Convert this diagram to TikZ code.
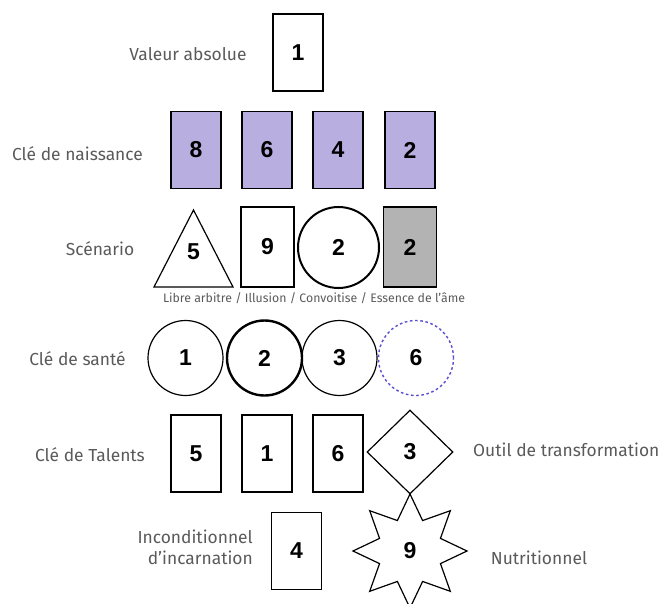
\documentclass[tikz,border=0pt]{standalone}
\usepackage{fontspec}
\setmainfont{Fira Sans}
\newfontfamily\digitfont{Liberation Sans}
\usetikzlibrary{shapes.geometric}
\definecolor{lblc}{HTML}{5A5A5A}
\definecolor{lav}{HTML}{B9AEE0}
\definecolor{gry}{HTML}{B3B3B3}
\definecolor{dblue}{HTML}{5A4FD0}
\begin{document}
\begin{tikzpicture}[x=1pt,y=-1pt,
  lbl/.style={text=lblc, font=\fontsize{17.4}{21}\selectfont, inner sep=0},
  sublbl/.style={text=lblc, font=\fontsize{12.3}{14}\selectfont, inner sep=0},
  num/.style={font=\digitfont\bfseries\fontsize{23}{26}\selectfont},
  card/.style={draw, line width=1.2pt, minimum width=50pt, minimum height=77pt, inner sep=0, num},
  bigcard/.style={draw, minimum width=53pt, minimum height=80pt, inner sep=0, num},
  ring/.style={draw, circle, line width=1.2pt, minimum size=75pt, inner sep=0, num}]
\useasboundingbox (0,0) rectangle (661,604);

% Valeur absolue
\node[lbl] (lva) at (188,54) {Valeur absolue};
\node[card] (va) at (298,52.5) {1};

% Cle de naissance
\node[lbl] (lcn) at (77.5,154) {Clé de naissance};
\node[card, fill=lav] (n1) at (196,150) {8};
\node[card, fill=lav] (n2) at (267,150) {6};
\node[card, fill=lav] (n3) at (338,150) {4};
\node[card, fill=lav] (n4) at (410,150) {2};

% Scenario
\node[lbl] (lsc) at (100,249) {Scénario};
\coordinate (ta) at (193.5,210);
\coordinate (tl) at (154,287);
\coordinate (tr) at (233,287);
\draw[line width=1.2pt, line join=miter] (ta) -- (tl) -- (tr) -- cycle;
\node[num] (s1) at (193.5,252) {5};
\node[bigcard, line width=2.4pt] (s2) at (267.5,247) {9};
\node[ring, line width=2pt, minimum size=81pt] (s3) at (338.5,247.5) {2};
\node[bigcard, line width=1.2pt, fill=gry] (s4) at (410,247) {2};
\node[sublbl] (lsub) at (314,298) {Libre arbitre / Illusion / Convoitise / Essence de l’âme};

% Cle de sante
\node[lbl] (lcs) at (77.5,359) {Clé de santé};
\node[ring] (h1) at (185.5,358) {1};
\node[ring, line width=2.4pt] (h2) at (264.5,358) {2};
\node[ring] (h3) at (339.5,358) {3};
\node[ring, draw=dblue, line width=1.4pt, dash pattern=on 2.6pt off 2.6pt] (h4) at (416,358) {6};

% Cle de Talents
\node[lbl] (lct) at (90,455) {Clé de Talents};
\node[card] (t1) at (196,453.5) {5};
\node[card] (t2) at (267,453.5) {1};
\node[card] (t3) at (338,453.5) {6};
\node[draw, diamond, line width=1.2pt, minimum width=86pt, minimum height=84pt, inner sep=0, num] (t4) at (410,452) {3};
\node[lbl, anchor=west] (lot) at (473,450) {Outil de transformation};

% Inconditionnel / Nutritionnel
\node[lbl, align=right, anchor=east] (lin) at (253,547.5) {Inconditionnel\\d’incarnation};
\node[card] (i1) at (296.5,551) {4};
\node[draw, star, star points=8, star point ratio=1.73, minimum size=114pt, inner sep=0, line width=1.2pt, num] (st) at (410,551) {9};
\node[lbl] (lnu) at (539,558) {Nutritionnel};
\end{tikzpicture}
\end{document}
